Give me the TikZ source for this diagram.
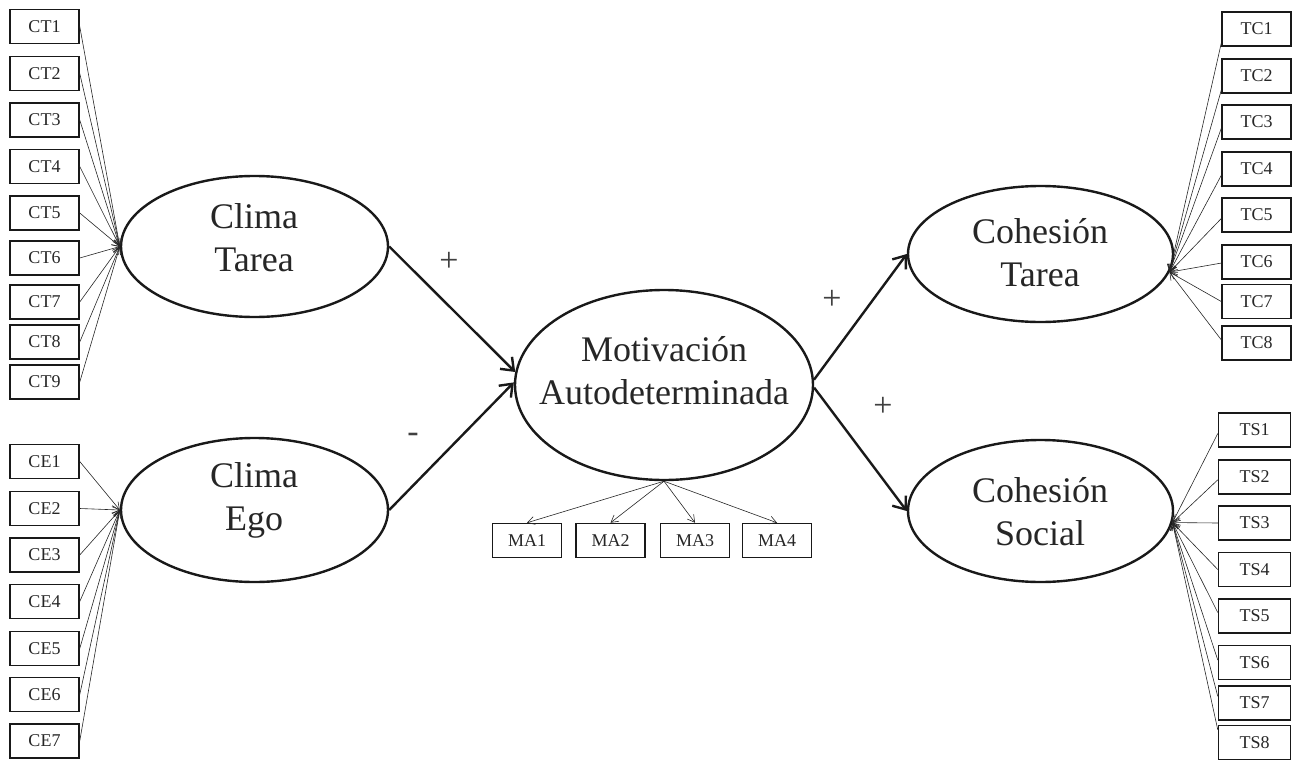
\documentclass[tikz,border=0pt]{standalone}
\usepackage{fontspec}
\setmainfont{Liberation Serif}
\usetikzlibrary{shapes.geometric,arrows.meta,calc}
\begin{document}
\begin{tikzpicture}[x=1pt,y=-1pt,
 lat/.style={ellipse, draw=black!90, line width=2.4pt, inner sep=0pt},
 lattext/.style={font=\fontsize{36}{43}\selectfont, align=center, text=black!85, inner sep=0pt},
 ind/.style={draw=black!90, line width=1.5pt, minimum width=69pt, minimum height=34pt, inner sep=0pt, font=\fontsize{18}{20}\selectfont, text=black!85},
 load/.style={line width=0.6pt, draw=black!85, -{Straight Barb[length=7pt,width=8pt]}},
 struct/.style={line width=2.4pt, draw=black!90, -{Straight Barb[length=11pt,width=17pt,line width=2.4pt]}},
 sign/.style={font=\fontsize{34}{40}\selectfont, text=black!75, inner sep=0pt}
]
\useasboundingbox (0,0) rectangle (1292,760);

% latent variables
\node[lat, minimum width=267pt, minimum height=141pt] (ct) at (254.5,246.5) {};
\node[lattext] (ctt) at (254,238) {Clima\\Tarea};
\node[lat, minimum width=267pt, minimum height=144pt] (ce) at (254.5,510) {};
\node[lattext] (cet) at (254,500) {Clima\\Ego};
\node[lat, minimum width=298pt, minimum height=190pt] (ma) at (664,385) {};
\node[lattext] (mat) at (664,371) {Motivación\\Autodeterminada};
\node[lat, minimum width=265pt, minimum height=136pt] (cta) at (1040.5,254) {};
\node[lattext] (ctat) at (1040,253) {Cohesión\\Tarea};
\node[lat, minimum width=265pt, minimum height=142pt] (cs) at (1040.5,511) {};
\node[lattext] (cst) at (1040,512) {Cohesión\\Social};

% CT indicators
\foreach \i/\y in {1/26.5,2/73.5,3/120,4/166.5,5/213,6/258,7/302,8/342,9/382}{
  \node[ind] (ct\i) at (44.5,\y) {CT\i};
  \draw[load] (ct\i.east) -- (ct.west);
}
% CE indicators
\foreach \i/\y in {1/461.5,2/508.5,3/555,4/601.5,5/648.5,6/694.5,7/741}{
  \node[ind] (ce\i) at (44.5,\y) {CE\i};
  \draw[load] (ce\i.east) -- (ce.west);
}
% TC indicators
\foreach \i/\y/\f in {1/29/0.9,2/76/0.9,3/122/0.68,4/169/0.68,5/215/0.6,6/262/0.53,7/301.5/0.5,8/343/0.41}{
  \node[ind] (tc\i) at (1256.5,\y) {TC\i};
  \draw[load] ($(tc\i.north west)!\f!(tc\i.south west)$) -- (cta.-8);
}
% TS indicators
\foreach \i/\y/\f in {1/430/0.6,2/477/0.58,3/523/0.5,4/569.5/0.5,5/616/0.4,6/662.5/0.43,7/703/0.31,8/742.5/0.14}{
  \node[ind, minimum width=72pt] (ts\i) at (1254.5,\y) {TS\i};
  \draw[load] ($(ts\i.north west)!\f!(ts\i.south west)$) -- (cs.-5);
}
% MA indicators
\foreach \i/\x in {1/527,2/610.5,3/695,4/777}{
  \node[ind] (ma\i) at (\x,540.5) {MA\i};
  \draw[load] (ma.south) -- (ma\i.north);
}

% structural paths
\draw[struct] (ct.east) -- (ma.175);
\draw[struct] (ce.east) -- (ma.179);
\draw[struct] (ma.2) -- (cta.west);
\draw[struct] (ma.-1) -- (cs.west);

% signs
\node[sign] (p1) at (449,262) {+};
\node[sign] (m1) at (413,438) {-};
\node[sign] (p2) at (832,300) {+};
\node[sign] (p3) at (883,407) {+};
\end{tikzpicture}
\end{document}
